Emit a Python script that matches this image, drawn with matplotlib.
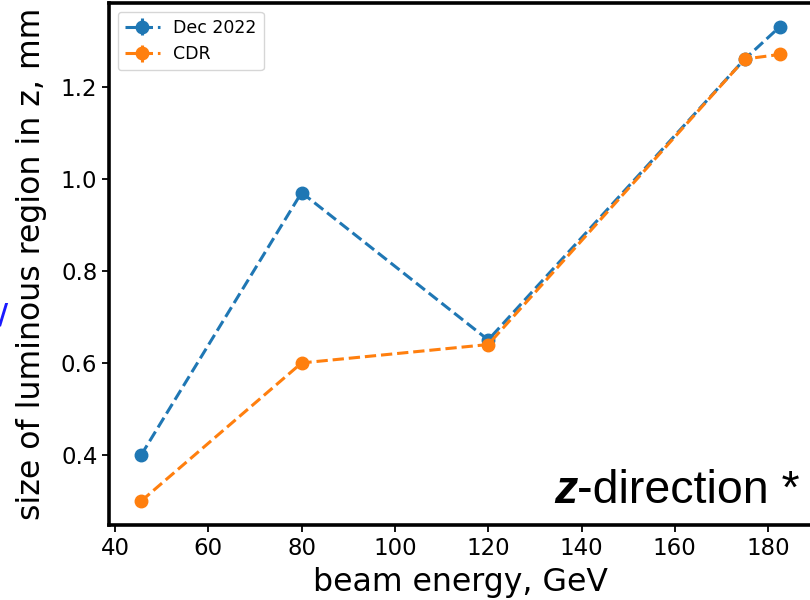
import matplotlib
matplotlib.use("Agg")
import matplotlib.pyplot as plt
import numpy as np

energy = [45.6, 80, 120, 175, 182.5]
dec2022 = [0.40, 0.97, 0.65, 1.26, 1.33]
cdr = [0.30, 0.60, 0.64, 1.26, 1.27]
zero_err = [0, 0, 0, 0, 0]
series_labels = ["Dec 2022", "CDR"]
xlabel = "beam energy, GeV"
ylabel = "size of luminous region in z, mm"

W, H = 810, 600
fig = plt.figure(figsize=(W / 100, H / 100), dpi=100)
ax = fig.add_axes([109.2 / W, 1 - 524.8 / H, (811.7 - 109.2) / W, (524.8 - 3.1) / H])

ax.errorbar(energy, dec2022, yerr=zero_err, fmt="o--", color="#1f77b4",
            markersize=9, linewidth=2.2, label=series_labels[0])
ax.errorbar(energy, cdr, yerr=zero_err, fmt="o--", color="#ff7f0e",
            markersize=9, linewidth=2.2, label=series_labels[1])

ax.set_xticks([40, 60, 80, 100, 120, 140, 160, 180])
ax.set_yticks([0.4, 0.6, 0.8, 1.0, 1.2])
ax.tick_params(labelsize=16.5, length=5, width=1.3)
for s in ax.spines.values():
    s.set_linewidth(2.6)

ax.set_xlabel(xlabel, fontsize=22.7, labelpad=5)
ax.set_ylabel(ylabel, fontsize=22.7, labelpad=10)
ax.legend(loc="upper left", fontsize=12.5)

# "z-direction *" annotation
fig.canvas.draw()
r = fig.canvas.get_renderer()
t2 = fig.text(800 / W, 1 - 503 / H, "-direction *", fontsize=33.5,
              family="Liberation Sans", ha="right", va="baseline")
bb = t2.get_window_extent(r)
fig.text(bb.x0 / W, 1 - 503 / H, "z", fontsize=33.5, family="Liberation Sans",
         weight="bold", style="italic", ha="right", va="baseline")

# fragment of slide text at the left edge
fig.text(-2 / W, 1 - 324 / H, "/", fontsize=20, color="#1a1aff",
         weight="bold", ha="left", va="baseline")

fig.savefig("out.png", dpi=100)
